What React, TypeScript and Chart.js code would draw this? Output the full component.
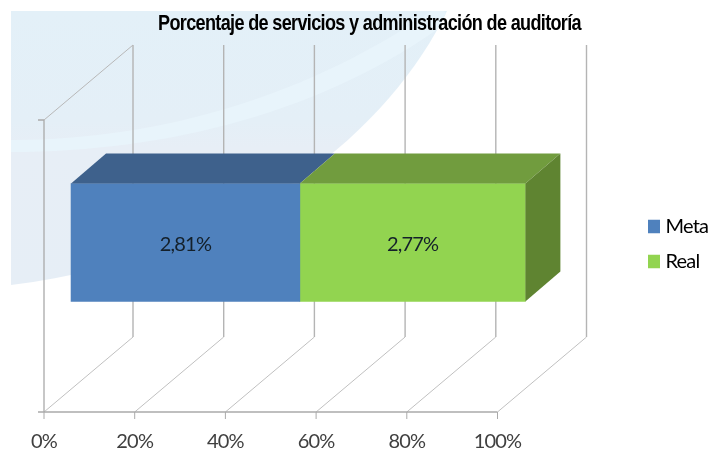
import React, { useEffect, useRef } from "react";
import { Chart, registerables } from "chart.js";

Chart.register(...registerables);

const chartTitle = "Porcentaje de servicios y administración de auditoría";
const categories = ["Auditoría"];
const seriesNames = ["Meta", "Real"];
const metaValues = [2.81];
const realValues = [2.77];
const seriesColors = ["#4f81bd", "#92d450"];
const topColors = ["#3e618c", "#719c3e"];
const sideColors = ["#324e72", "#5f8431"];
const axisTicks = [0, 20, 40, 60, 80, 100];

const total = metaValues[0] + realValues[0];
const share = (v: number) => (v / total) * 100;
const fmt = (v: number) => v.toFixed(2).replace(".", ",") + "%";

const WALL_DX = 89;
const WALL_DY = 75;
const WALL_H = 292;
const BAR_DX = 35;
const BAR_DY = 30;
const PX_PER_PCT = 4.535;

const plugin3d = {
  id: "plugin3d",
  afterLayout(chart: any) {
    const t = chart.titleBlock;
    t.left = 158; t.right = 581; t.top = 11; t.bottom = 39;
    const l = chart.legend;
    l.left = 637.5; l.right = 709; l.top = 201.5; l.bottom = 302;
  },
  beforeDraw(chart: any) {
    const c = chart.ctx;
    c.letterSpacing = "-0.8px";
    c.save();
    c.beginPath();
    c.moveTo(11, 11);
    c.lineTo(447, 11);
    c.bezierCurveTo(392, 125, 250, 255, 11, 285);
    c.closePath();
    const g = c.createLinearGradient(0, 11, 0, 285);
    g.addColorStop(0, "#e3f0f8");
    g.addColorStop(0.4, "#e4eff7");
    g.addColorStop(0.5, "#e7eef6");
    g.addColorStop(1, "#e6eef6");
    c.fillStyle = g;
    c.fill();
    c.clip();
    c.beginPath();
    c.moveTo(11, 140);
    c.bezierCurveTo(170, 140, 320, 90, 440, 5);
    c.lineTo(450, 20);
    c.bezierCurveTo(330, 110, 170, 152, 11, 152);
    c.closePath();
    c.fillStyle = "#e8f4fb";
    c.fill();
    c.restore();
  },
  beforeDatasetsDraw(chart: any) {
    const c = chart.ctx;
    const x = chart.scales.x;
    const bottom = chart.chartArea.bottom;
    c.save();
    axisTicks.forEach((v) => {
      const px = x.getPixelForValue(v);
      c.strokeStyle = "#c0c0c0";
      c.lineWidth = 1;
      c.beginPath();
      c.moveTo(px, bottom);
      c.lineTo(px + WALL_DX, bottom - WALL_DY);
      c.stroke();
      c.strokeStyle = "#b4b4b4";
      c.lineWidth = 1.4;
      c.beginPath();
      c.moveTo(px + WALL_DX, bottom - WALL_DY);
      c.lineTo(px + WALL_DX, bottom - WALL_H - WALL_DY);
      c.stroke();
      c.strokeStyle = "#aaaaaa";
      c.lineWidth = 1;
      c.beginPath();
      c.moveTo(px, bottom);
      c.lineTo(px, bottom + 7);
      c.stroke();
    });
    const x0 = x.getPixelForValue(0);
    const x100 = x.getPixelForValue(100);
    c.strokeStyle = "#aaaaaa";
    c.lineWidth = 1.3;
    c.beginPath();
    c.moveTo(x0 - 6, bottom);
    c.lineTo(x100, bottom);
    c.moveTo(x0, bottom);
    c.lineTo(x0, bottom - WALL_H);
    c.lineTo(x0 - 6, bottom - WALL_H);
    c.stroke();
    c.strokeStyle = "#b8b8b8";
    c.lineWidth = 1;
    c.beginPath();
    c.moveTo(x0, bottom - WALL_H);
    c.lineTo(x0 + WALL_DX, bottom - WALL_H - WALL_DY);
    c.stroke();
    c.restore();
  },
  afterDatasetsDraw(chart: any) {
    const c = chart.ctx;
    c.save();
    const metas = chart.data.datasets.map((_: any, i: number) => chart.getDatasetMeta(i));
    metas.forEach((m: any, i: number) => {
      const b = m.data[0];
      const p = b.getProps(["x", "y", "base", "height"], true);
      const top = p.y - p.height / 2;
      const bot = p.y + p.height / 2;
      c.fillStyle = topColors[i];
      c.beginPath();
      c.moveTo(p.base, top);
      c.lineTo(p.base + BAR_DX, top - BAR_DY);
      c.lineTo(p.x + BAR_DX, top - BAR_DY);
      c.lineTo(p.x, top);
      c.closePath();
      c.fill();
      if (i === metas.length - 1) {
        c.fillStyle = sideColors[i];
        c.beginPath();
        c.moveTo(p.x, top);
        c.lineTo(p.x + BAR_DX, top - BAR_DY);
        c.lineTo(p.x + BAR_DX, bot - BAR_DY);
        c.lineTo(p.x, bot);
        c.closePath();
        c.fill();
      }
      const raw = i === 0 ? metaValues[0] : realValues[0];
      c.fillStyle = "#14202a";
      c.font = "20px Lato";
      c.textAlign = "center";
      c.textBaseline = "middle";
      c.fillText(fmt(raw), (p.base + p.x) / 2, p.y + 2);
    });
    c.restore();
  },
};

export default function App() {
  const ref = useRef<HTMLCanvasElement>(null);
  useEffect(() => {
    const chart = new Chart(ref.current as HTMLCanvasElement, {
      type: "bar",
      plugins: [plugin3d],
      data: {
        labels: categories,
        datasets: [
          { label: seriesNames[0], data: metaValues.map(share), backgroundColor: seriesColors[0], xAxisID: "xBar", barThickness: 118 },
          { label: seriesNames[1], data: realValues.map(share), backgroundColor: seriesColors[1], xAxisID: "xBar", barThickness: 118 },
        ],
      },
      options: {
        indexAxis: "y",
        responsive: false,
        animation: false,
        layout: { padding: { left: 44, right: 122, top: 46.6, bottom: -15 } },
        scales: {
          x: {
            axis: "x",
            position: "bottom",
            type: "linear",
            min: 0,
            max: (587 - 44) / PX_PER_PCT,
            grid: { display: false },
            border: { display: false },
            afterBuildTicks: (s: any) => {
              s.ticks = axisTicks.map((value) => ({ value }));
            },
            ticks: {
              autoSkip: false,
              maxRotation: 0,
              padding: 10,
              color: "#404040",
              font: { family: "Lato", size: 20 },
              callback: (v: any) => v + "%",
            },
          },
          xBar: {
            axis: "x",
            type: "linear",
            stacked: true,
            display: false,
            min: -(71 - 44) / PX_PER_PCT,
            max: 100 + (587 - 525.5) / PX_PER_PCT,
          },
          y: { stacked: true, display: false },
        },
        plugins: {
          tooltip: { enabled: false },
          title: {
            display: true,
            text: chartTitle,
            color: "#000000",
            padding: 0,
            font: { family: "Liberation Sans", size: 22, weight: "bold" },
          },
          legend: {
            position: "chartArea",
            align: "start",
            labels: {
              boxWidth: 3,
              boxHeight: 4.5,
              padding: 15,
              color: "#404040",
              font: { family: "Lato", size: 20 },
              generateLabels: () =>
                seriesNames.map((text, i) => ({
                  text,
                  fillStyle: seriesColors[i],
                  strokeStyle: seriesColors[i],
                  lineWidth: 9,
                  datasetIndex: i,
                  hidden: false,
                })),
            },
          },
        },
      },
    } as any);
    return () => chart.destroy();
  }, []);
  return (
    <canvas
      ref={ref}
      width={709}
      height={449}
      style={{ position: "absolute", left: 0, top: 0, background: "#ffffff" }}
    />
  );
}
